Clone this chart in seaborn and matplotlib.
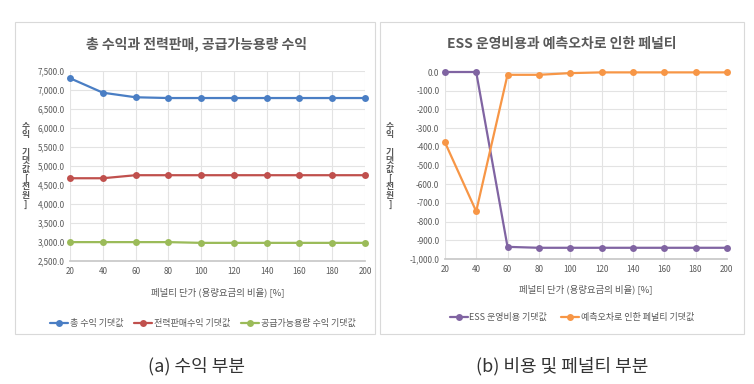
import numpy as np
import pandas as pd
import matplotlib.pyplot as plt
import matplotlib.patches as mpatches
import seaborn as sns

# data
x_ratio = [20, 40, 60, 80, 100, 120, 140, 160, 180, 200]
total_rev = [7310, 6930, 6810, 6790, 6790, 6790, 6790, 6790, 6790, 6790]
power_rev = [4680, 4680, 4760, 4760, 4760, 4760, 4760, 4760, 4760, 4760]
capacity_rev = [3000, 3000, 3000, 3000, 2980, 2980, 2980, 2980, 2980, 2980]
ess_cost = [0, 0, -935, -940, -940, -940, -940, -940, -940, -940]
penalty = [-375, -745, -15, -15, -6, -2, -2, -2, -2, -2]

left_names = ['총 수익 기댓값', '전력판매수익 기댓값', '공급가능용량 수익 기댓값']
left_colors = ['#4a7ec4', '#c0504d', '#9bbb59']
right_names = ['ESS 운영비용 기댓값', '예측오차로 인한 페널티 기댓값']
right_colors = ['#8064a2', '#f79646']

sns.set_theme(style='white')
plt.rcParams['font.family'] = ['Noto Sans CJK KR', 'DejaVu Sans']
grey = '#595959'

fig = plt.figure(figsize=(7.54, 3.84), dpi=100)

# panel frames
for x0, w in [(0.020, 0.478), (0.504, 0.483)]:
    fig.patches.append(mpatches.Rectangle((x0, 0.130), w, 0.812, transform=fig.transFigure,
                                          fill=False, edgecolor='#d9d9d9', lw=0.8))

df_left = pd.DataFrame({'x': x_ratio * 3,
                        'val': total_rev + power_rev + capacity_rev,
                        'series': np.repeat(left_names, len(x_ratio))})
df_right = pd.DataFrame({'x': x_ratio * 2,
                         'val': ess_cost + penalty,
                         'series': np.repeat(right_names, len(x_ratio))})


def style_axes(ax, ylim, step, title, cx):
    ax.set_xlim(20, 200)
    ax.set_ylim(*ylim)
    ax.set_xticks(x_ratio)
    ax.set_yticks(np.arange(ylim[0], ylim[1] + 1, step))
    ax.yaxis.set_major_formatter(plt.FuncFormatter(lambda v, p: f'{v:,.1f}'))
    ax.grid(True, color='#e3e3e3', lw=0.8)
    for s in ['top', 'right', 'left']:
        ax.spines[s].set_visible(False)
    ax.spines['bottom'].set_color('#c8c8c8')
    ax.tick_params(axis='both', labelsize=5.8, colors=grey, length=0, pad=4)
    ax.set_xlabel('페널티 단가 (용량요금의 비율) [%]', fontsize=6.8, color=grey, labelpad=8)
    ax.set_ylabel('')
    fig.text(cx, 0.885, title, ha='center', va='center', fontsize=10, color=grey, fontweight='bold')
    for line in ax.lines:
        line.set_clip_on(False)


# left panel
ax1 = fig.add_axes([0.093, 0.320, 0.391, 0.495])
sns.lineplot(data=df_left, x='x', y='val', hue='series', palette=left_colors,
             marker='o', markersize=5, markeredgewidth=0, lw=1.6, ax=ax1)
style_axes(ax1, (2500, 7500), 500, '총 수익과 전력판매, 공급가능용량 수익', 0.26)
ax1.legend(loc='upper center', bbox_to_anchor=(0.45, -0.26), ncol=3, frameon=False,
           fontsize=6.5, labelcolor=grey, handlelength=2.0, columnspacing=1.2, handletextpad=0.2)

# right panel
ax2 = fig.add_axes([0.590, 0.3255, 0.374, 0.487])
sns.lineplot(data=df_right, x='x', y='val', hue='series', palette=right_colors,
             marker='o', markersize=5, markeredgewidth=0, lw=1.6, ax=ax2)
style_axes(ax2, (-1000, 0), 100, 'ESS 운영비용과 예측오차로 인한 페널티', 0.745)
ax2.legend(loc='upper center', bbox_to_anchor=(0.45, -0.245), ncol=2, frameon=False,
           fontsize=6.5, labelcolor=grey, handlelength=2.0, columnspacing=1.5, handletextpad=0.2)

# stacked vertical y labels
ylab = '수\n익\n\n기\n댓\n값\n[\n천\n원\n]'
for xp in [0.034, 0.517]:
    fig.text(xp, 0.57, ylab, ha='center', va='center', fontsize=6.3, color=grey,
             linespacing=0.95, fontweight='bold')

# captions
fig.text(0.26, 0.045, '(a) 수익 부분', ha='center', va='center', fontsize=13, color='#333333')
fig.text(0.745, 0.045, '(b) 비용 및 페널티 부분', ha='center', va='center', fontsize=13, color='#333333')

fig.savefig('out.png', dpi=100)
